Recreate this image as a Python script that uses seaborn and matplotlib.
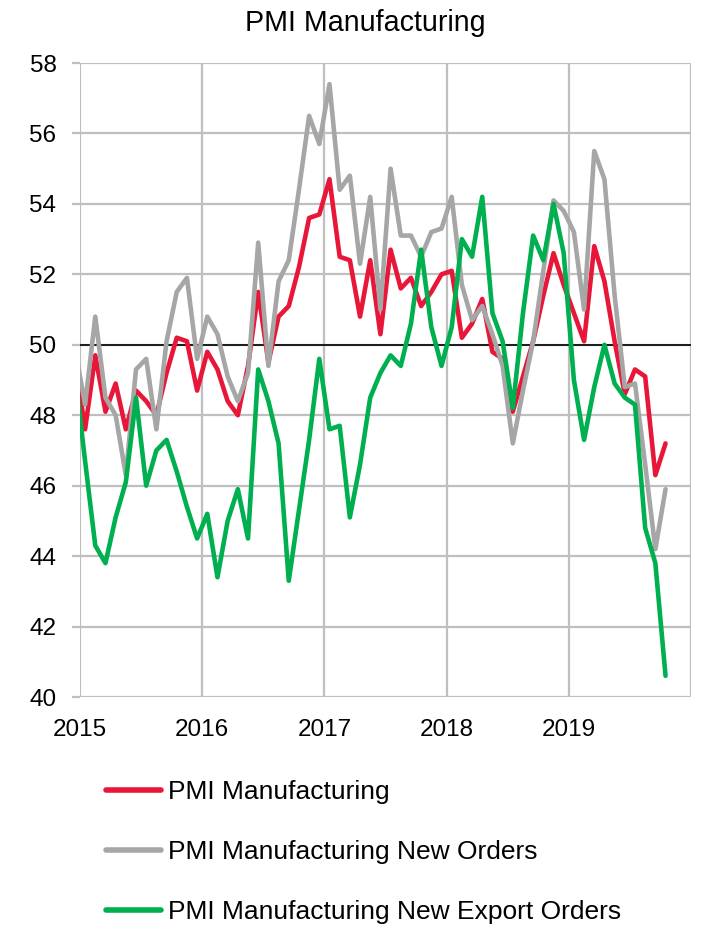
import numpy as np
import pandas as pd
import matplotlib
matplotlib.use("Agg")
import matplotlib.pyplot as plt
import seaborn as sns

# Monthly data, Dec 2014 .. Oct 2019 (first point lies just left of the visible axis)
start_year = 2014
start_month = 12

pmi = [49.6,
       47.6, 49.7, 48.1, 48.9, 47.6, 48.7, 48.4, 48.0, 49.2, 50.2, 50.1, 48.7,
       49.8, 49.3, 48.4, 48.0, 49.4, 51.5, 49.5, 50.8, 51.1, 52.2, 53.6, 53.7,
       54.7, 52.5, 52.4, 50.8, 52.4, 50.3, 52.7, 51.6, 51.9, 51.1, 51.5, 52.0,
       52.1, 50.2, 50.6, 51.3, 49.8, 49.6, 48.1, 49.1, 50.1, 51.4, 52.6, 51.7,
       50.9, 50.1, 52.8, 51.8, 50.1, 48.6, 49.3, 49.1, 46.3, 47.2]

new_orders = [49.9,
              48.3, 50.8, 48.5, 48.0, 46.3, 49.3, 49.6, 47.6, 50.1, 51.5, 51.9, 49.6,
              50.8, 50.3, 49.1, 48.4, 49.2, 52.9, 49.4, 51.8, 52.4, 54.4, 56.5, 55.7,
              57.4, 54.4, 54.8, 52.3, 54.2, 51.0, 55.0, 53.1, 53.1, 52.5, 53.2, 53.3,
              54.2, 51.7, 50.7, 51.1, 50.3, 49.4, 47.2, 48.7, 50.1, 52.1, 54.1, 53.8,
              53.2, 51.0, 55.5, 54.7, 51.4, 48.8, 48.9, 46.6, 44.2, 45.9]

export_orders = [49.2,
                 46.7, 44.3, 43.8, 45.1, 46.1, 48.5, 46.0, 47.0, 47.3, 46.4, 45.4, 44.5,
                 45.2, 43.4, 45.0, 45.9, 44.5, 49.3, 48.4, 47.2, 43.3, 45.3, 47.3, 49.6,
                 47.6, 47.7, 45.1, 46.6, 48.5, 49.2, 49.7, 49.4, 50.6, 52.7, 50.5, 49.4,
                 50.5, 53.0, 52.5, 54.2, 50.9, 50.1, 48.2, 50.9, 53.1, 52.4, 54.0, 52.6,
                 49.0, 47.3, 48.8, 50.0, 48.9, 48.5, 48.3, 44.8, 43.8, 40.6]

series_names = ["PMI Manufacturing",
                "PMI Manufacturing New Orders",
                "PMI Manufacturing New Export Orders"]
series_colors = ["#E8173A", "#A6A6A6", "#00B050"]
year_ticks = [2015, 2016, 2017, 2018, 2019, 2020]
year_labels = ["2015", "2016", "2017", "2018", "2019", ""]
y_ticks = [40, 42, 44, 46, 48, 50, 52, 54, 56, 58]

# month positions at mid-month in decimal years
n = len(pmi)
month_index = np.arange(n) + (start_year * 12 + start_month - 1)
xpos = month_index / 12.0 + 0.5 / 12.0

df = pd.concat([
    pd.DataFrame({"x": xpos, "value": vals, "series": name})
    for name, vals in zip(series_names, [pmi, new_orders, export_orders])
], ignore_index=True)

sns.set_theme(style="white")
plt.rcParams["font.family"] = ["Liberation Sans", "DejaVu Sans"]
plt.rcParams["text.color"] = "black"
plt.rcParams["xtick.labelcolor"] = "black"
plt.rcParams["ytick.labelcolor"] = "black"

fig = plt.figure(figsize=(7.02, 9.27), dpi=100)
ax = fig.add_axes([80 / 702, 1 - 697 / 927, (691 - 80) / 702, (697 - 63) / 927])

sns.lineplot(data=df, x="x", y="value", hue="series", hue_order=series_names,
             palette=series_colors, linewidth=3.3, ax=ax, legend=True,
             solid_joinstyle="round", solid_capstyle="round", zorder=3)

ax.set_xlim(2015, 2020)
ax.set_ylim(40, 58)
ax.set_xticks(year_ticks)
ax.set_xticklabels(year_labels)
ax.set_yticks(y_ticks)
ax.set_xlabel("")
ax.set_ylabel("")
ax.grid(True, color="#BFBFBF", linewidth=1.6, zorder=0)
for s in ax.spines.values():
    s.set_visible(False)
ax.axhline(50, color="black", linewidth=1.2, zorder=2)

ax.tick_params(axis="y", which="major", length=6, width=1.6, color="#BFBFBF",
               labelsize=17.5, pad=11, left=True, labelcolor="black")
ax.tick_params(axis="x", which="major", length=0, labelsize=17.5, pad=16,
               labelcolor="black")

fig.suptitle("PMI Manufacturing", x=365 / 702, y=1 - 9 / 927, fontsize=20.6,
             va="top", color="black")

handles, labels = ax.get_legend_handles_labels()
ax.get_legend().remove()
for h in handles:
    h.set_linewidth(4)
    h.set_solid_capstyle("round")
leg = fig.legend(handles, labels, loc="upper left",
                 bbox_to_anchor=(106 / 702, 1 - 780 / 927),
                 frameon=False, fontsize=19, handlelength=2.1,
                 handletextpad=0.25, labelspacing=1.36, borderpad=0,
                 borderaxespad=0)
for t in leg.get_texts():
    t.set_color("black")

fig.savefig("out.png", dpi=100)
